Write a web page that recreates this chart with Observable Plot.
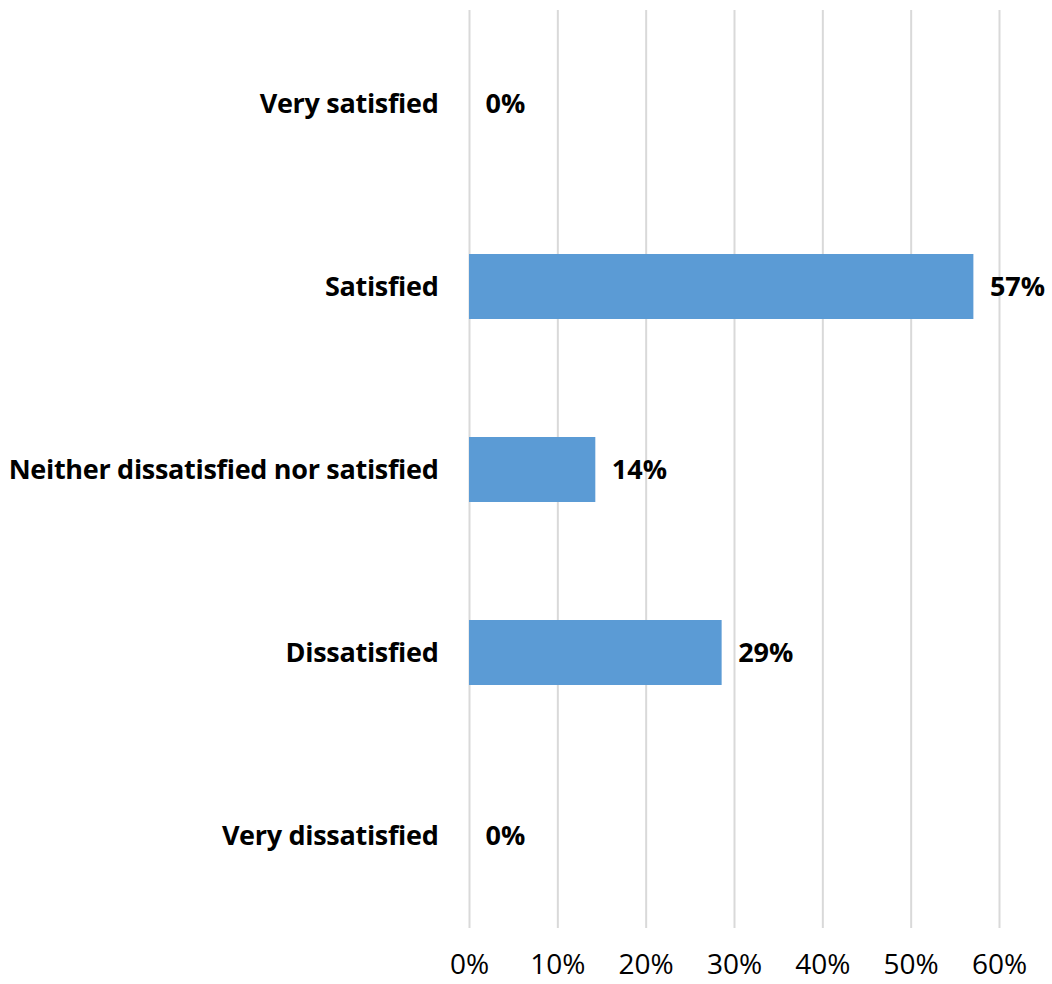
<!DOCTYPE html>
<html>
<head>
<meta charset="utf-8">
<script src="https://cdn.jsdelivr.net/npm/d3@7"></script>
<script src="https://cdn.jsdelivr.net/npm/@observablehq/plot@0.6"></script>
<style>
  html, body { margin: 0; padding: 0; background: #fff; }
  #chart svg { display: block; }
  #chart svg g[aria-label="y-axis tick label"] text { letter-spacing: -0.3px; }
</style>
</head>
<body>
<div id="chart"></div>
<script>
const categories = ["Very satisfied", "Satisfied", "Neither dissatisfied nor satisfied", "Dissatisfied", "Very dissatisfied"];
const values = [0, 0.571, 0.143, 0.286, 0];
const valueLabels = ["0%", "57%", "14%", "29%", "0%"];
const tickValues = [0, 0.1, 0.2, 0.3, 0.4, 0.5, 0.6];
const tickLabels = ["0%", "10%", "20%", "30%", "40%", "50%", "60%"];

const data = categories.map((c, i) => ({category: c, value: values[i], label: valueLabels[i]}));
const font = "'Open Sans', Lato, sans-serif";

const chart = Plot.plot({
  width: 1052,
  height: 984,
  marginLeft: 469,
  marginRight: 53,
  marginTop: 10,
  marginBottom: 56,
  style: {fontFamily: font, color: "#000", background: "#fff"},
  x: {domain: [0, 0.6], axis: null},
  y: {domain: categories, paddingInner: 0.646, paddingOuter: 0.323, axis: null},
  marks: [
    Plot.ruleX(tickValues, {stroke: "#d9d9d9", strokeWidth: 2, strokeOpacity: 1}),
    Plot.barX(data, {x: "value", y: "category", fill: "#5b9bd5"}),
    Plot.text(data, {x: "value", y: "category", text: "label", textAnchor: "start", dx: 16, fontSize: 27, fontWeight: "bold", fill: "#000"}),
    Plot.axisY({tickSize: 0, tickPadding: 31, fontSize: 27, fontWeight: "bold", label: null}),
    Plot.axisX({ticks: tickValues, tickFormat: (d, i) => tickLabels[i], tickSize: 0, tickPadding: 26, fontSize: 28, label: null})
  ]
});
document.getElementById("chart").appendChild(chart);
</script>
</body>
</html>
